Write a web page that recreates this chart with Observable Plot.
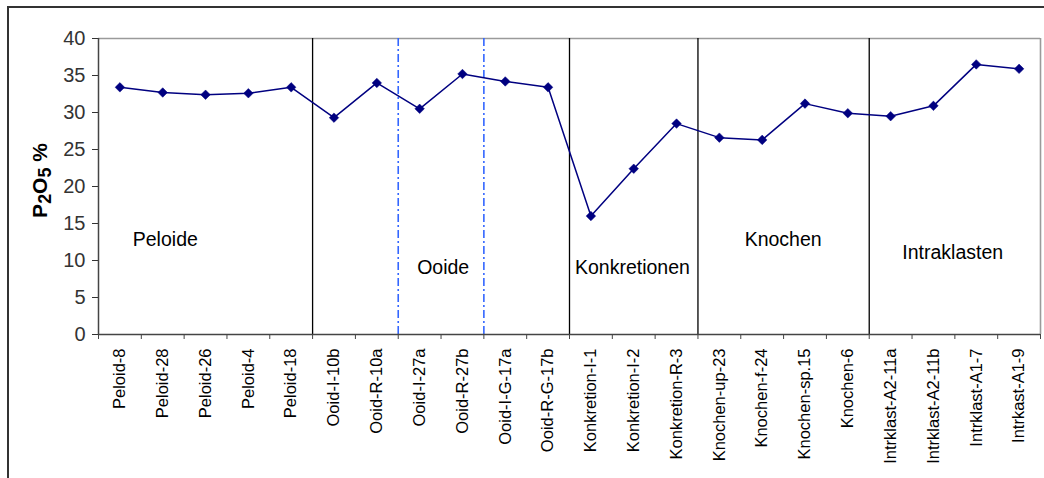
<!DOCTYPE html>
<html><head><meta charset="utf-8">
<script src="https://cdn.jsdelivr.net/npm/d3@7"></script>
<script src="https://cdn.jsdelivr.net/npm/@observablehq/plot@0.6"></script>
<style>
body{margin:0;background:#fff;}
#wrap{position:relative;width:1044px;height:478px;overflow:hidden;background:#fff;}
#border{position:absolute;left:7px;top:6px;width:2000px;height:1000px;border-left:2px solid #333;border-top:2px solid #333;pointer-events:none;}
#wrap svg{position:absolute;left:0;top:0;}
</style></head><body><div id="wrap"><div id="border"></div></div>
<script>
// ---- data ----
const samples = ["Peloid-8","Peloid-28","Peloid-26","Peloid-4","Peloid-18",
  "Ooid-I-10b","Ooid-R-10a","Ooid-I-27a","Ooid-R-27b","Ooid-I-G-17a","Ooid-R-G-17b",
  "Konkretion-I-1","Konkretion-I-2","Konkretion-R-3",
  "Knochen-up-23","Knochen-f-24","Knochen-sp.15","Knochen-6",
  "Intrklast-A2-11a","Intrklast-A2-11b","Intrklast-A1-7","Intrkast-A1-9"];
const p2o5 = [33.4,32.7,32.4,32.6,33.4,
  29.3,34.0,30.5,35.2,34.2,33.4,
  16.0,22.4,28.5,
  26.6,26.3,31.2,29.9,
  29.5,30.9,36.5,35.9];
const yTicks = [0,5,10,15,20,25,30,35,40];
const groupNames = ["Peloide","Ooide","Konkretionen","Knochen","Intraklasten"];
const groupLabelX = [1.56, 8.05, 12.47, 15.99, 19.95];
const groupLabelY = [12.8, 9.0, 9.05, 12.85, 11.1];
const groupBoundaries = [5, 11, 14, 18];
const ooidSubBoundaries = [7, 9];
const yTitleParts = [["P", false], ["2", true], ["O", false], ["5", true], [" %", false]];

// ---- chart ----
const yTitle = yTitleParts.map(p => p[0]).join("");
const pts = samples.map((s, i) => ({name: s, x: i + 0.5, y: p2o5[i]}));
const groups = groupNames.map((g, i) => ({g, x: groupLabelX[i], y: groupLabelY[i]}));
const font = "'Liberation Sans', Arial, sans-serif";
const yTickFont = 20, xLabelFont = 16.5;

const chart = Plot.plot({
  width: 1044,
  height: 478,
  marginLeft: 98,
  marginRight: 4,
  marginTop: 38,
  marginBottom: 144,
  style: {fontFamily: font, background: "transparent", color: "#000"},
  x: {type: "linear", domain: [0, samples.length]},
  y: {domain: [0, 40]},
  marks: [
    // plot frame top/right
    Plot.ruleY([40], {stroke: "#9a9a9a", strokeWidth: 1.6}),
    Plot.ruleX([samples.length], {y1: 0, y2: 40, stroke: "#9a9a9a", strokeWidth: 1.6}),
    // group separators
    Plot.ruleX(groupBoundaries, {y1: 0, y2: 40, stroke: "#000", strokeWidth: 1.3}),
    Plot.ruleX(ooidSubBoundaries, {y1: 0, y2: 40, stroke: "#3366ff", strokeWidth: 1.6, strokeDasharray: "8,3,2,3"}),
    // axes
    Plot.axisY({ticks: yTicks, tickSize: 6, tickPadding: 7, fontSize: yTickFont, label: null, color: "#333"}),
    Plot.axisX({ticks: d3.range(0, samples.length + 1), tickSize: 5, tickFormat: () => "", label: null, color: "#444"}),
    Plot.axisX({ticks: pts.map(d => d.x), tickFormat: v => samples[Math.floor(v)], tickSize: 0, tickPadding: 14,
      tickRotate: -90, fontSize: xLabelFont, label: null, color: "#000"}),
    Plot.ruleX([0], {y1: 0, y2: 40, stroke: "#444", strokeWidth: 1.5}),
    Plot.ruleY([0], {stroke: "#444", strokeWidth: 1.5}),
    // group labels
    Plot.text(groups, {x: "x", y: "y", text: "g", fontSize: 19.5, fill: "#000"}),
    // y title
    Plot.text([yTitle], {frameAnchor: "left", textAnchor: "middle", dx: -58, dy: -6, rotate: -90, fontSize: 21, fontWeight: "bold", fill: "#000"}),
    // series
    Plot.line(pts, {x: "x", y: "y", stroke: "#000080", strokeWidth: 1.5}),
    Plot.dot(pts, {x: "x", y: "y", symbol: "diamond2", r: 4.3, fill: "#000080", stroke: "#000080", strokeWidth: 0.5})
  ]
});

// make sure the tick label font sizes are applied
chart.querySelectorAll('[aria-label="y-axis tick label"]').forEach(g => g.setAttribute("font-size", yTickFont));
chart.querySelectorAll('[aria-label="x-axis tick label"]').forEach(g => g.setAttribute("font-size", xLabelFont));

// render subscripts in the y title
const titleEl = [...chart.querySelectorAll("text")].find(e => e.textContent === yTitle);
if (titleEl) {
  titleEl.textContent = "";
  let wasSub = false;
  for (const [s, sub] of yTitleParts) {
    const ts = document.createElementNS("http://www.w3.org/2000/svg", "tspan");
    ts.textContent = s;
    if (sub) { ts.setAttribute("font-size", "0.85em"); ts.setAttribute("dy", "0.2em"); }
    else if (wasSub) { ts.setAttribute("dy", "-0.17em"); }
    wasSub = sub;
    titleEl.appendChild(ts);
  }
}
document.getElementById("wrap").prepend(chart);
</script>
</body></html>
